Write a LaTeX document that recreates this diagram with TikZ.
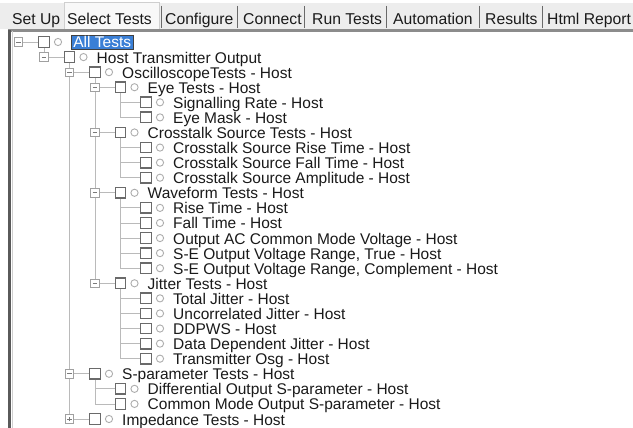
\documentclass[tikz,border=0pt]{standalone}
\usepackage{fontspec}
\setmainfont{Liberation Sans}
\usetikzlibrary{backgrounds}
\definecolor{tabbg}{HTML}{EDEDED}
\definecolor{tabsel}{HTML}{F8F8F8}
\definecolor{tabedge}{HTML}{CFCFCF}
\definecolor{tabsep}{HTML}{6A6A6A}
\definecolor{textcol}{HTML}{1A1A1A}
\definecolor{boxgray}{HTML}{6A6A6A}
\definecolor{circgray}{HTML}{ADADAD}
\definecolor{expgray}{HTML}{A0A0A0}
\definecolor{expsign}{HTML}{7A7A7A}
\definecolor{tlinecol}{HTML}{BABABA}
\definecolor{hlblue}{HTML}{3A7FD6}
\definecolor{hlborder}{HTML}{404040}
\definecolor{panelbord}{HTML}{5A5A5A}
\definecolor{paneltop}{HTML}{8C8C8C}
\definecolor{panelinner}{HTML}{D0D0D0}
\newcommand\titem[4]{%
  \node[tbox] (b#1) at ({44+25.5*#2},{42+15.08*#3}) {};
  \node[tcirc] (c#1) at ({58+25.5*#2},{42+15.08*#3}) {};
  \node[tlabel] (t#1) at ({71+25.5*#2},{48+15.08*#3}) {#4};}
\newcommand\texpnode[4]{%
  \node[#4] (e#1) at ({18.5+25.5*#2},{42+15.08*#3}) {};}
\newcommand\leafline[2]{\draw[tline] (#1.south |- #2.west) -- (#2.west);}
\newcommand\lastline[2]{\draw[tline] (#1.south) |- (#2.west);}
\newcommand\expline[1]{\draw[tline] (e#1.east) -- (b#1.west);}
\begin{document}
\begin{tikzpicture}[x=1pt,y=-1pt,
  tbox/.style={draw=boxgray, line width=1.3pt, rectangle, minimum size=10.5pt, inner sep=0pt},
  tcirc/.style={draw=circgray, line width=0.9pt, circle, minimum size=7.2pt, inner sep=0pt},
  tlabel/.style={anchor=base west, inner sep=0pt, font=\fontsize{15.5}{17}\selectfont, text=textcol},
  tablabel/.style={anchor=base west, inner sep=0pt, font=\fontsize{15.7}{17}\selectfont, text=textcol},
  tline/.style={draw=tlinecol, line width=0.8pt},
  texp/.style={draw=expgray, line width=0.8pt, fill=white, rectangle, minimum size=8.5pt, inner sep=0pt,
    path picture={\draw[expsign, line width=0.9pt]
      ([xshift=-2.3pt]path picture bounding box.center) -- ([xshift=2.3pt]path picture bounding box.center);}},
  texpplus/.style={draw=expgray, line width=0.8pt, fill=white, rectangle, minimum size=8.5pt, inner sep=0pt,
    path picture={\draw[expsign, line width=0.9pt]
      ([xshift=-2.3pt]path picture bounding box.center) -- ([xshift=2.3pt]path picture bounding box.center)
      ([yshift=-2.3pt]path picture bounding box.center) -- ([yshift=2.3pt]path picture bounding box.center);}},
  tabsepline/.style={draw=tabsep, line width=1pt}
]
\useasboundingbox (0,0) rectangle (633,428);
\begin{pgfonlayer}{background}
  \fill[white] (0,0) rectangle (633,428);
\end{pgfonlayer}

% tab bar
\fill[tabbg] (0,3) rectangle (633,29);
\filldraw[fill=tabsel, draw=tabedge, line width=0.6pt] (64,2) rectangle (159,29);
\foreach \sx in {161,237,304,386,479,542} {\draw[tabsepline] (\sx,6) -- (\sx,28);}
\node[tablabel] (tab1) at (12,25) {Set Up};
\node[tablabel] (tab2) at (67,25) {Select Tests};
\node[tablabel] (tab3) at (165,25) {Configure};
\node[tablabel] (tab4) at (243,25) {Connect};
\node[tablabel] (tab5) at (312,25) {Run Tests};
\node[tablabel] (tab6) at (393,25) {Automation};
\node[tablabel] (tab7) at (485,25) {Results};
\node[tablabel] (tab8) at (547,25) {Html Report};

% panel borders
\draw[paneltop, line width=2.2pt] (8,30.5) -- (633,30.5);
\draw[panelbord, line width=2.5pt] (9.5,30) -- (9.5,428);
\draw[panelinner, line width=1pt] (12.3,31.5) -- (12.3,428);

% tree items
\node[tbox] (b0) at (44,42) {};
\node[tcirc] (c0) at (58,42) {};
\node[tlabel, fill=hlblue, draw=hlborder, line width=0.8pt, text=white,
      inner xsep=2pt, inner ysep=1pt, text depth=0.5pt] (t0) at (71,48) {All Tests};
\titem{1}{1}{1}{Host Transmitter Output}
\titem{2}{2}{2}{OscilloscopeTests - Host}
\titem{3}{3}{3}{Eye Tests - Host}
\titem{4}{4}{4}{Signalling Rate - Host}
\titem{5}{4}{5}{Eye Mask - Host}
\titem{6}{3}{6}{Crosstalk Source Tests - Host}
\titem{7}{4}{7}{Crosstalk Source Rise Time - Host}
\titem{8}{4}{8}{Crosstalk Source Fall Time - Host}
\titem{9}{4}{9}{Crosstalk Source Amplitude - Host}
\titem{10}{3}{10}{Waveform Tests - Host}
\titem{11}{4}{11}{Rise Time - Host}
\titem{12}{4}{12}{Fall Time - Host}
\titem{13}{4}{13}{Output AC Common Mode Voltage - Host}
\titem{14}{4}{14}{S-E Output Voltage Range, True - Host}
\titem{15}{4}{15}{S-E Output Voltage Range, Complement - Host}
\titem{16}{3}{16}{Jitter Tests - Host}
\titem{17}{4}{17}{Total Jitter - Host}
\titem{18}{4}{18}{Uncorrelated Jitter - Host}
\titem{19}{4}{19}{DDPWS - Host}
\titem{20}{4}{20}{Data Dependent Jitter - Host}
\titem{21}{4}{21}{Transmitter Osg - Host}
\titem{22}{2}{22}{S-parameter Tests - Host}
\titem{23}{3}{23}{Differential Output S-parameter - Host}
\titem{24}{3}{24}{Common Mode Output S-parameter - Host}
\titem{25}{2}{25}{Impedance Tests - Host}

% expanders
\texpnode{0}{0}{0}{texp}
\texpnode{1}{1}{1}{texp}
\texpnode{2}{2}{2}{texp}
\texpnode{3}{3}{3}{texp}
\texpnode{6}{3}{6}{texp}
\texpnode{10}{3}{10}{texp}
\texpnode{16}{3}{16}{texp}
\texpnode{22}{2}{22}{texp}
\texpnode{25}{2}{25}{texpplus}

% tree lines
\begin{pgfonlayer}{background}
  \draw[tline] (b0.south) -- (e1.north);
  \draw[tline] (b1.south) -- (e25.north);
  \draw[tline] (b2.south) -- (e16.north);
  \foreach \n in {0,1,2,3,6,10,16,22,25} {\expline{\n}}
  \leafline{b3}{b4} \lastline{b3}{b5}
  \leafline{b6}{b7} \leafline{b6}{b8} \lastline{b6}{b9}
  \leafline{b10}{b11} \leafline{b10}{b12} \leafline{b10}{b13} \leafline{b10}{b14} \lastline{b10}{b15}
  \leafline{b16}{b17} \leafline{b16}{b18} \leafline{b16}{b19} \leafline{b16}{b20} \lastline{b16}{b21}
  \leafline{b22}{b23} \lastline{b22}{b24}
\end{pgfonlayer}
\end{tikzpicture}
\end{document}
